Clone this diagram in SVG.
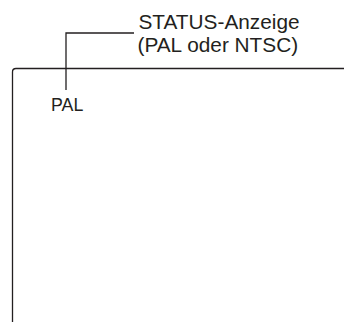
<svg xmlns="http://www.w3.org/2000/svg" width="344" height="322" viewBox="0 0 344 322">
<style>
.t{font-family:"Liberation Sans",Arial,sans-serif;fill:#231f20}
.ln{fill:none;stroke:#231f20;stroke-width:1.3}
</style>
<rect width="344" height="322" fill="#fff"/>
<g id="frame">
<path class="ln" d="M12.5,322 V72 Q12.5,68.5 16,68.5 H344"/>
</g>
<g id="connectors">
<path class="ln" d="M134,33 H66 V90"/>
</g>
<g id="label-status">
<text class="t" x="138.5" y="28.5" font-size="20.8">STATUS-Anzeige</text>
<text class="t" x="137.5" y="51.5" font-size="20.8">(PAL oder NTSC)</text>
</g>
<g id="label-pal">
<text class="t" x="51" y="110.5" font-size="17.8">PAL</text>
</g>
</svg>
